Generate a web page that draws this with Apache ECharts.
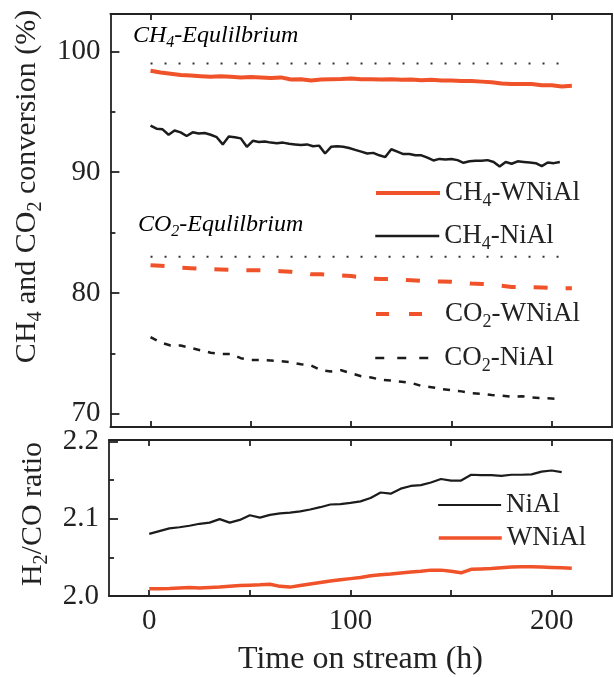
<!DOCTYPE html>
<html>
<head>
<meta charset="utf-8">
<script src="https://cdn.jsdelivr.net/npm/echarts@6/dist/echarts.min.js"></script>
<style>
  html, body { margin: 0; padding: 0; background: #fff; }
  #chart { width: 614px; height: 677px; }
</style>
</head>
<body>
<div id="chart"></div>
<script>
// ---- data ----
const hoursLong = [0,5,10,15,20,25,30,35,40,45,50,55,60,65,70,75,80,85,90,95,100,105,110,115,120,125,130,135,140,145,150,155,160,165,170,175,180,185,190,195,200,205,210];
const hoursNi = [0,5,10,15,20,25,30,35,40,45,50,55,60,65,70,75,80,85,90,95,100,105,110,115,120,125,130,135,140,145,150,155,160,165,170,175,180,185,190,195,200,205];
const hoursFine = [0,3,6,9,12,15,18,21,24,27,30,33,36,39,42,45,48,51,54,57,60,63,66,69,72,75,78,81,84,87,90,93,96,99,102,105,108,111,114,117,120,123,126,129,132,135,138,141,144,147,150,153,156,159,162,165,168,171,174,177,180,183,186,189,192,195,198,201,204];

const eqHours = [0, 208];
const ch4Equilibrium = [99.0, 99.0];
const co2Equilibrium = [83.0, 83.0];

const ch4WNiAl = [98.4,98.25,98.15,98.05,98.0,97.95,97.9,97.95,97.9,97.85,97.88,97.85,97.8,97.85,97.68,97.7,97.6,97.68,97.7,97.72,97.75,97.7,97.7,97.68,97.7,97.65,97.68,97.62,97.65,97.6,97.6,97.55,97.55,97.5,97.45,97.35,97.3,97.3,97.3,97.2,97.2,97.1,97.15];
const ch4NiAl = [93.86,93.6,93.55,93.1,93.45,93.3,93.0,93.3,93.2,93.25,93.1,92.9,92.3,92.95,92.9,92.8,92.1,92.6,92.5,92.55,92.45,92.4,92.45,92.35,92.3,92.25,92.3,92.15,92.2,91.55,92.1,92.15,92.1,92.0,91.85,91.7,91.55,91.6,91.4,91.25,91.9,91.7,91.5,91.5,91.4,91.4,91.2,90.97,91.1,91.05,91.1,91.0,90.78,90.9,90.95,90.95,91.0,90.85,90.47,90.85,90.7,90.9,90.85,90.8,90.75,90.5,90.8,90.75,90.85];
const co2WNiAl = [82.3,82.25,82.2,82.1,82.05,82.0,81.98,81.95,81.92,81.9,81.88,81.87,81.85,81.8,81.75,81.65,81.55,81.55,81.5,81.45,81.4,81.3,81.2,81.15,81.15,81.1,81.05,81.0,80.97,80.95,80.92,80.85,80.78,80.75,80.7,80.6,80.5,80.5,80.48,80.45,80.42,80.4,80.4];
const co2NiAl = [76.35,75.9,75.65,75.65,75.45,75.25,75.05,74.95,74.95,74.6,74.45,74.45,74.4,74.35,74.25,74.1,74.0,73.6,73.5,73.6,73.35,73.1,73.0,72.8,72.75,72.65,72.55,72.3,72.2,72.05,71.95,71.85,71.7,71.65,71.55,71.5,71.4,71.45,71.35,71.3,71.25,71.2];

const ratioNiAl = [2.0805,2.084,2.0875,2.089,2.091,2.0935,2.095,2.0995,2.095,2.0985,2.1045,2.1015,2.105,2.107,2.108,2.1095,2.112,2.115,2.1185,2.119,2.1205,2.1225,2.127,2.134,2.1325,2.139,2.1425,2.1435,2.147,2.1515,2.1495,2.1495,2.157,2.1565,2.1565,2.1555,2.157,2.157,2.1575,2.161,2.1625,2.1605];
const ratioWNiAl = [2.0095,2.0095,2.0098,2.0105,2.011,2.0105,2.011,2.0115,2.0125,2.0135,2.014,2.0145,2.0152,2.0125,2.0115,2.0135,2.0155,2.0175,2.0195,2.021,2.0225,2.024,2.0262,2.0275,2.0285,2.0298,2.031,2.032,2.0335,2.0335,2.032,2.03,2.0345,2.035,2.0355,2.0365,2.0375,2.038,2.038,2.0375,2.037,2.0365,2.036];

const xTickValues = [0, 50, 100, 150, 200];
const xLabelValues = [0, 100, 200];
const convMajor = [70, 80, 90, 100];
const convMinor = [75, 85, 95];
const ratioMajor = [2.0, 2.1, 2.2];
const ratioMinor = [2.05, 2.15];

// ---- styling ----
const FONT = 'Liberation Serif';
const ORANGE = '#F0522A';
const BLACK = '#1c1c1c';
const AXIS = '#222';
const DASH_OR = [14, 18], DASH_BK = [7, 8];

const zip = (xs, ys) => xs.map((x, i) => [x, ys[i]]);

// main text + lowered subscript
function rich(size, italic) {
  const st = italic ? 'italic' : 'normal';
  const subSize = Math.round(size * 0.66);
  return {
    m: { fontFamily: FONT, fontSize: size, fontStyle: st, lineHeight: size + 4, color: AXIS },
    s: { fontFamily: FONT, fontSize: subSize, fontStyle: st, lineHeight: subSize + 1, padding: [Math.round(size * 0.6), 0, 0, 0], color: AXIS }
  };
}

const legendText = {
  'CH4-WNiAl': '{m|CH}{s|4}{m|-WNiAl}',
  'CH4-NiAl': '{m|CH}{s|4}{m|-NiAl}',
  'CO2-WNiAl': '{m|CO}{s|2}{m|-WNiAl}',
  'CO2-NiAl': '{m|CO}{s|2}{m|-NiAl}',
  'NiAl': '{m|NiAl}',
  'WNiAl': '{m|WNiAl}'
};

const boxLine = { show: true, lineStyle: { color: AXIS, width: 1.8 }, onZero: false };
const X_MIN = -20, X_MAX = 230;

function xAxisFor(grid, position, showLabels) {
  return {
    type: 'value', gridIndex: grid, position: position, min: X_MIN, max: X_MAX,
    axisLine: boxLine,
    axisTick: { show: true, inside: true, length: 6, customValues: xTickValues, lineStyle: { color: AXIS, width: 1.8 } },
    axisLabel: { show: showLabels, customValues: xLabelValues, margin: 11, fontFamily: FONT, fontSize: 29, color: AXIS },
    splitLine: { show: false }
  };
}

function yAxisMajor(grid, min, max, major, fmt, name, namePad) {
  return {
    type: 'value', gridIndex: grid, position: 'left', min: min, max: max,
    name: name, nameLocation: 'middle', nameGap: 58,
    nameTextStyle: { rich: rich(30, false), padding: namePad },
    axisLine: boxLine,
    axisTick: { show: true, inside: true, length: 9, customValues: major, lineStyle: { color: AXIS, width: 1.8 } },
    axisLabel: { show: true, customValues: major, margin: 10, fontFamily: FONT, fontSize: 29, color: AXIS, formatter: fmt },
    splitLine: { show: false }
  };
}

function yAxisMinor(grid, min, max, minor) {
  return {
    type: 'value', gridIndex: grid, position: 'left', min: min, max: max,
    axisLine: { show: false, onZero: false },
    axisTick: { show: true, inside: true, length: 5, customValues: minor, lineStyle: { color: AXIS, width: 1.8 } },
    axisLabel: { show: false },
    splitLine: { show: false }
  };
}

function yAxisRight(grid, min, max) {
  return {
    type: 'value', gridIndex: grid, position: 'right', min: min, max: max,
    axisLine: boxLine, axisTick: { show: false }, axisLabel: { show: false }, splitLine: { show: false }
  };
}

function lineSeries(name, x, y, data, color, width, type) {
  return {
    name: name, type: 'line', xAxisIndex: x, yAxisIndex: y, data: data,
    symbol: 'none', showSymbol: false,
    lineStyle: { color: color, width: width, type: type || 'solid', cap: 'butt' },
    itemStyle: { color: color }
  };
}

// one legend per entry so each sits where the figure puts it
function legendItem(name, left, centerY, width, type, iconWidth) {
  const h = /\d/.test(name) ? 32 : 31;
  return {
    orient: 'vertical', left: left, top: centerY - h / 2, padding: 0,
    itemWidth: iconWidth, itemHeight: 14, selectedMode: false,
    data: [name],
    formatter: n => legendText[n],
    textStyle: { rich: rich(27, false) },
    itemStyle: { opacity: 0 },
    lineStyle: { width: width, type: type }
  };
}

const chart = echarts.init(document.getElementById('chart'), null, { renderer: 'canvas' });

chart.setOption({
  animation: false,
  backgroundColor: '#fff',
  grid: [
    { left: 109, right: 2, top: 14, height: 413 },
    { left: 109, right: 2, top: 440, height: 156 }
  ],
  xAxis: [
    xAxisFor(0, 'bottom', false),
    xAxisFor(0, 'top', false),
    Object.assign(xAxisFor(1, 'bottom', true), {
      name: 'Time on stream (h)', nameLocation: 'middle', nameGap: 48,
      nameTextStyle: { fontFamily: FONT, fontSize: 32, color: AXIS }
    }),
    xAxisFor(1, 'top', false)
  ],
  yAxis: [
    yAxisMajor(0, 68.9, 103.1, convMajor, v => String(Math.round(v)), '{m|CH}{s|4}{m| and CO}{s|2}{m| conversion (%)}', [0, 0, 0, 68]),
    yAxisMinor(0, 68.9, 103.1, convMinor),
    yAxisRight(0, 68.9, 103.1),
    yAxisMajor(1, 2.0, 2.202, ratioMajor, v => v.toFixed(1), '{m|H}{s|2}{m|/CO ratio}', [0, 0, 0, 8]),
    yAxisMinor(1, 2.0, 2.202, ratioMinor),
    yAxisRight(1, 2.0, 2.202)
  ],
  legend: [
    legendItem('CH4-WNiAl', 374, 192, 4, 'solid', 64),
    legendItem('CH4-NiAl', 374, 235, 2.5, 'solid', 64),
    legendItem('CO2-WNiAl', 374, 313, 4, [13, 20], 64),
    legendItem('CO2-NiAl', 374, 357, 2.5, [9, 13], 64),
    legendItem('NiAl', 437, 507, 2.2, 'solid', 63),
    legendItem('WNiAl', 437, 540, 3.5, 'solid', 63)
  ],
  graphic: [
    { type: 'text', left: 133, top: 21, style: { text: '{m|CH}{s|4}{m|-Equlilbrium}', rich: rich(24, true) } },
    { type: 'text', left: 138, top: 210, style: { text: '{m|CO}{s|2}{m|-Equlilbrium}', rich: rich(24, true) } }
  ],
  series: [
    lineSeries('CH4 equilibrium', 0, 0, zip(eqHours, ch4Equilibrium), '#333', 2, [2, 12]),
    lineSeries('CO2 equilibrium', 0, 0, zip(eqHours, co2Equilibrium), '#333', 2, [2, 12]),
    lineSeries('CH4-WNiAl', 0, 0, zip(hoursLong, ch4WNiAl), ORANGE, 4),
    lineSeries('CH4-NiAl', 0, 0, zip(hoursFine, ch4NiAl), BLACK, 2.5),
    lineSeries('CO2-WNiAl', 0, 0, zip(hoursLong, co2WNiAl), ORANGE, 4, DASH_OR),
    lineSeries('CO2-NiAl', 0, 0, zip(hoursNi, co2NiAl), BLACK, 2.5, DASH_BK),
    lineSeries('NiAl', 2, 3, zip(hoursNi, ratioNiAl), BLACK, 2.2),
    lineSeries('WNiAl', 2, 3, zip(hoursLong, ratioWNiAl), ORANGE, 3.5)
  ]
});
</script>
</body>
</html>
